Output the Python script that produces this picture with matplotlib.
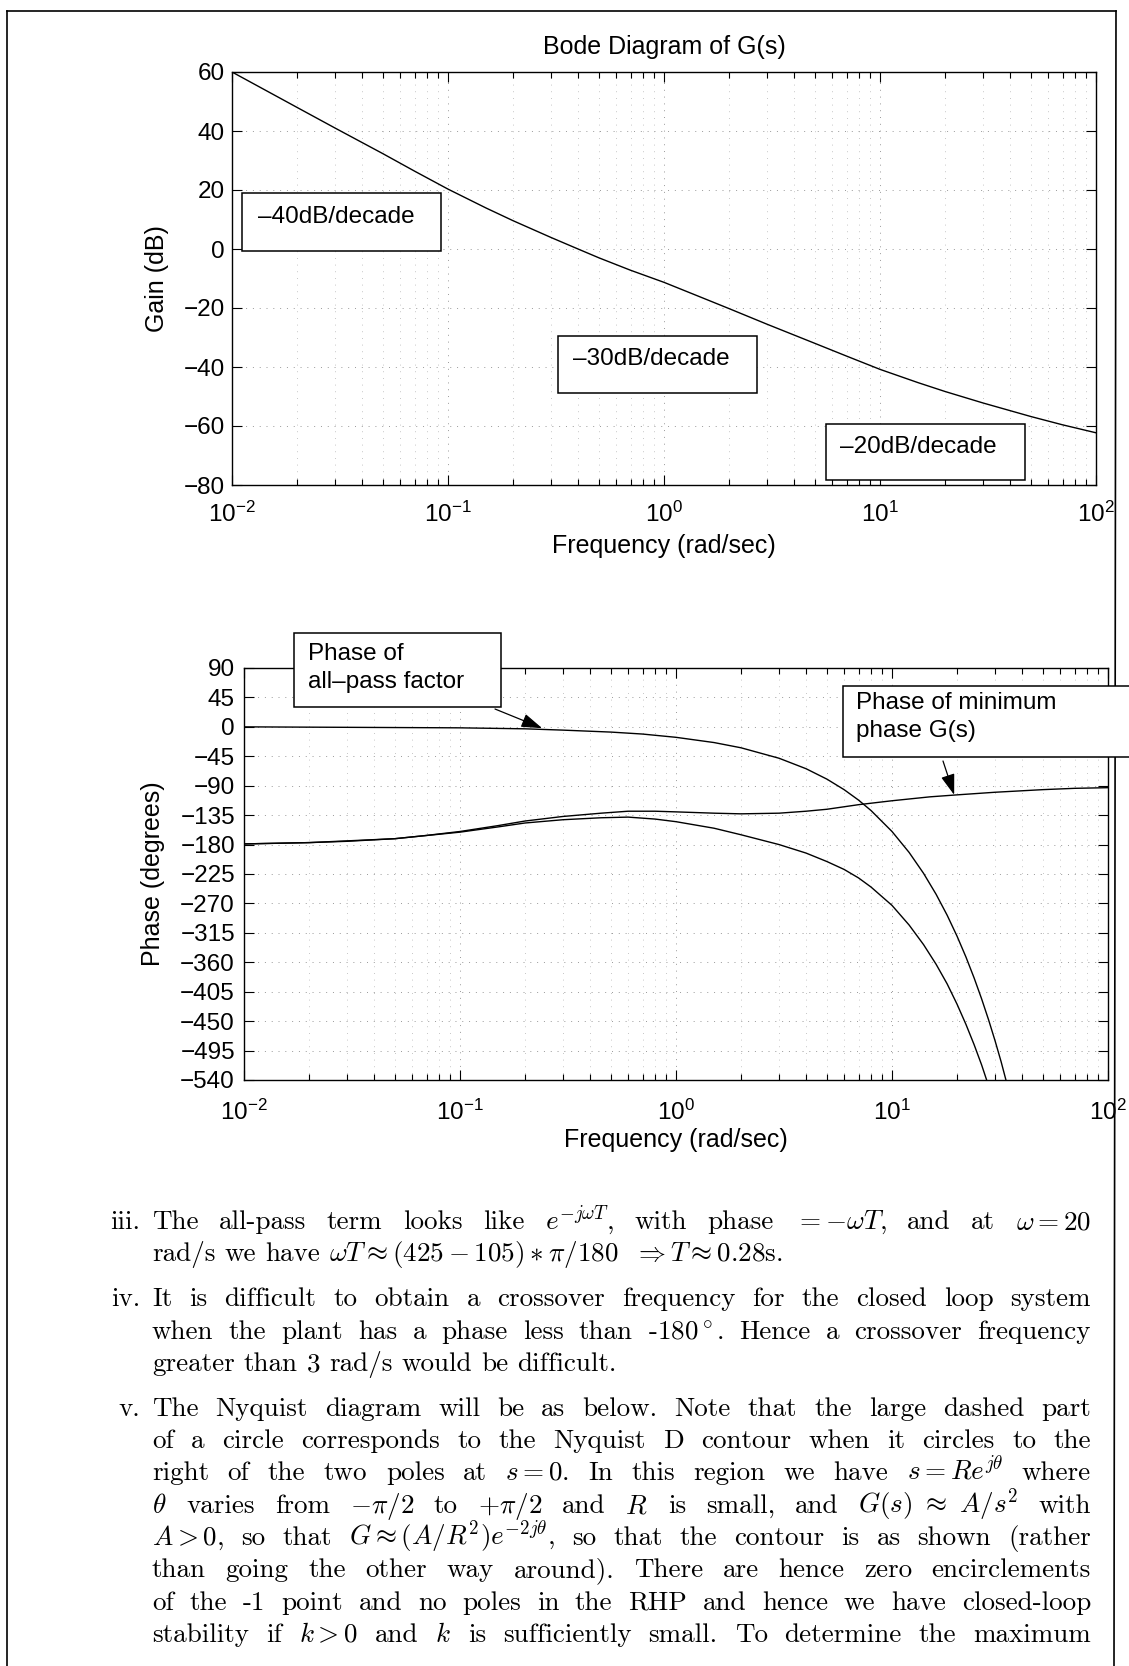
"""Bode diagram of G(s) (gain + phase) with the worked text below, scanned-page style"""
import matplotlib
matplotlib.use('Agg')
import matplotlib.pyplot as plt
import numpy as np
from matplotlib.patches import Rectangle
from matplotlib.lines import Line2D
from matplotlib.ticker import LogLocator, NullLocator, NullFormatter

W, H = 1129, 1666

# gain of G(s)
gain_freq = [0.01, 0.02, 0.03, 0.05, 0.07, 0.1, 0.15, 0.2, 0.3, 0.4, 0.5, 0.7, 1, 1.5,
             2, 3, 5, 7, 10, 15, 20, 30, 50, 70, 100]
gain_db = [60, 48, 41, 32.3, 26.4, 20.3, 13.9, 9.6, 3.9, 0.0, -3.0, -7.2, -11.3, -16.5,
           -20.2, -25.5, -32, -36.3, -40.8, -45.3, -48.3, -52.2, -56.8, -59.6, -62.3]

# phase of the all-pass factor
ap_freq = [0.01, 0.1, 0.2, 0.3, 0.5, 0.7, 1, 1.5, 2, 3, 4, 5, 6, 7, 8, 10, 12, 14,
           16, 18, 20, 22, 24, 26, 28, 30, 32, 34]
ap_deg = [0, -1.5, -3, -5, -8, -11, -16, -24, -32, -48, -64, -80, -96, -112, -128,
          -160, -192, -224, -256, -288, -320, -352, -384, -416, -448, -480, -512, -545]

# phase of minimum phase G(s)
mp_freq = [0.01, 0.02, 0.03, 0.05, 0.07, 0.1, 0.15, 0.2, 0.3, 0.45, 0.6, 0.8, 1, 1.5,
           2, 3, 4, 5, 7, 10, 15, 20, 30, 50, 70, 100]
mp_deg = [-179, -177, -175, -171, -166, -160, -151, -144, -137, -132, -129, -129, -130,
          -132, -133, -132, -129, -126, -119, -113, -107, -104, -100, -96, -94, -93]

# total phase of G(s)
tot_freq = [0.01, 0.02, 0.05, 0.1, 0.15, 0.2, 0.3, 0.45, 0.6, 0.8, 1, 1.5, 2, 3, 4, 5,
            6, 7, 8, 10, 12, 14, 16, 18, 20, 22, 24, 26, 28]
tot_deg = [-179, -177, -171, -161, -153, -147, -142, -139, -138, -141, -145, -155, -165,
           -180, -193, -206, -218, -231, -245, -273, -303, -333, -363, -393, -424, -455,
           -486, -517, -549]

gain_ticks = list(range(-80, 61, 20))
phase_ticks = list(range(-540, 91, 45))

para_iii = ["The all-pass term looks like $e^{-j\\omega T}$, with phase $= -\\omega T$, and at $\\omega = 20$",
            "rad/s we have $\\omega T \\approx (425 - 105) \\ast \\pi/180\\ \\ \\Rightarrow T \\approx 0.28$s."]
para_iv = ["It is difficult to obtain a crossover frequency for the closed loop system",
           "when the plant has a phase less than -180$^\\circ$. Hence a crossover frequency",
           "greater than 3 rad/s would be difficult."]
para_v = ["The Nyquist diagram will be as below. Note that the large dashed part",
          "of a circle corresponds to the Nyquist D contour when it circles to the",
          "right of the two poles at $s = 0$. In this region we have $s = Re^{j\\theta}$ where",
          "$\\theta$ varies from $-\\pi/2$ to $+\\pi/2$ and $R$ is small, and $G(s)\\ \\approx\\ A/s^2$ with",
          "$A > 0$, so that $G \\approx (A/R^2)e^{-2j\\theta}$, so that the contour is as shown (rather",
          "than going the other way around). There are hence zero encirclements",
          "of the -1 point and no poles in the RHP and hence we have closed-loop",
          "stability if $k > 0$ and $k$ is sufficiently small. To determine the maximum"]

plt.rcParams['font.family'] = ['Liberation Sans', 'DejaVu Sans']
plt.rcParams['mathtext.fontset'] = 'custom'
plt.rcParams['mathtext.rm'] = 'Liberation Sans'
plt.rcParams['mathtext.it'] = 'Liberation Sans:italic'
plt.rcParams['mathtext.bf'] = 'Liberation Sans:bold'

SERIF = ['cmr10', 'DejaVu Serif']
FS = 17.5
BODY = 19.5
LEFT, RIGHT = 152, 1091


def fx(x):
    return x / W


def fy(y):
    return 1 - y / H


def box(fig, x0, y0, x1, y1):
    fig.add_artist(Rectangle((fx(x0), fy(y1)), (x1 - x0) / W, (y1 - y0) / H,
                             transform=fig.transFigure, fc='white', ec='black',
                             lw=1.1, zorder=5))


def label(fig, x, y, s, **kw):
    fig.text(fx(x), fy(y), s, fontsize=FS, va='baseline', zorder=6, **kw)


def style_axes(ax, ylim, yticks, xpad, ypad):
    ax.set_xscale('log')
    ax.set_xlim(0.01, 100)
    ax.set_ylim(*ylim)
    ax.set_yticks(yticks)
    ax.yaxis.set_minor_locator(NullLocator())
    ax.xaxis.set_major_locator(LogLocator(base=10, numticks=10))
    ax.xaxis.set_minor_locator(LogLocator(base=10, subs=np.arange(2, 10), numticks=20))
    ax.xaxis.set_minor_formatter(NullFormatter())
    ax.tick_params(which='both', direction='in', top=True, right=True, width=0.8,
                   labelsize=FS)
    ax.tick_params(which='major', length=7)
    ax.tick_params(which='minor', length=4)
    ax.tick_params(axis='x', pad=xpad)
    ax.tick_params(axis='y', pad=ypad)
    ax.grid(True, which='major', ls=(0, (1, 6)), color='0.6', lw=0.7)
    ax.grid(True, which='minor', axis='x', ls=(0, (1, 7)), color='0.7', lw=0.6)
    for sp in ax.spines.values():
        sp.set_linewidth(1.0)


def split_tokens(s):
    toks, cur, in_math = [], '', False
    for ch in s:
        if ch == '$':
            in_math = not in_math
        if ch == ' ' and not in_math:
            if cur:
                toks.append(cur)
            cur = ''
        else:
            cur += ch
    if cur:
        toks.append(cur)
    return toks


def put_line(fig, renderer, s, y, justify, size):
    arts = [fig.text(0, fy(y), t, fontsize=size, family=SERIF, math_fontfamily='cm',
                     va='baseline') for t in split_tokens(s)]
    widths = [a.get_window_extent(renderer).width for a in arts]
    gap = size * 100 / 72 * 0.333
    if justify and len(arts) > 1:
        gap = max(gap * 0.6, (RIGHT - LEFT - sum(widths)) / (len(arts) - 1))
    x = LEFT
    for a, w in zip(arts, widths):
        a.set_x(fx(x))
        x += w + gap


def main():
    fig = plt.figure(figsize=(W / 100, H / 100), dpi=100)

    # page frame of the scan
    for xs, ys in [([7, 7], [11, H]), ([7, 1116], [11, 11]), ([1116, 1114], [11, H])]:
        fig.add_artist(Line2D([fx(v) for v in xs], [fy(v) for v in ys],
                              transform=fig.transFigure, color='k', lw=1.2))

    # ---- gain plot ----
    ax1 = fig.add_axes([fx(232), fy(485), 864 / W, 413 / H])
    ax1.plot(gain_freq, gain_db, 'k-', lw=1.0)
    style_axes(ax1, (-80, 60), gain_ticks, 12, 5)
    fig.text(fx(664), fy(54), 'Bode Diagram of G(s)', fontsize=18, ha='center', va='baseline')
    fig.text(fx(664), fy(553), 'Frequency (rad/sec)', fontsize=18, ha='center', va='baseline')
    fig.text(fx(157), fy(279), 'Gain (dB)', fontsize=18, ha='center', va='center', rotation=90)

    box(fig, 242, 193, 441, 251)
    label(fig, 258, 223, '\u201340dB/decade')
    box(fig, 558, 336, 757, 393)
    label(fig, 573, 365, '\u201330dB/decade')
    box(fig, 826, 424, 1025, 480)
    label(fig, 840, 453, '\u201320dB/decade')

    # ---- phase plot ----
    ax2 = fig.add_axes([fx(244), fy(1080), 864 / W, 412 / H])
    ax2.plot(ap_freq, ap_deg, 'k-', lw=1.0)
    ax2.plot(mp_freq, mp_deg, 'k-', lw=1.0)
    ax2.plot(tot_freq, tot_deg, 'k-', lw=1.0)
    style_axes(ax2, (-540, 90), phase_ticks, 14, 6.5)
    fig.text(fx(676), fy(1147), 'Frequency (rad/sec)', fontsize=18, ha='center', va='baseline')
    fig.text(fx(153), fy(874), 'Phase (degrees)', fontsize=18, ha='center', va='center', rotation=90)

    box(fig, 294, 633, 501, 707)
    label(fig, 308, 660, 'Phase of')
    label(fig, 308, 688, 'all\u2013pass factor')
    box(fig, 843, 686, 1145, 757)
    label(fig, 856, 709, 'Phase of minimum')
    label(fig, 856, 737, 'phase G(s)')

    arrow = dict(arrowstyle='-|>,head_length=0.75,head_width=0.25', mutation_scale=17,
                 color='k', lw=0.9, shrinkA=0, shrinkB=0)
    ax2.annotate('', xy=(0.24, -2), xytext=(fx(495), fy(709)),
                 textcoords='figure fraction', arrowprops=arrow, annotation_clip=False)
    ax2.annotate('', xy=(19.4, -104), xytext=(fx(943), fy(761)),
                 textcoords='figure fraction', arrowprops=arrow, annotation_clip=False)

    # ---- text below the plots ----
    renderer = fig.canvas.get_renderer()
    paras = [('iii.', para_iii, [1229, 1261]),
             ('iv.', para_iv, [1306, 1339, 1371]),
             ('v.', para_v, [1416, 1448, 1480, 1513, 1545, 1577, 1610, 1642])]
    for num, lines, ys in paras:
        fig.text(fx(140), fy(ys[0]), num, fontsize=BODY, family=SERIF, ha='right', va='baseline')
        for i, (s, y) in enumerate(zip(lines, ys)):
            last = (i == len(lines) - 1) and num != 'v.'
            put_line(fig, renderer, s, y, not last, BODY)

    fig.savefig('out.png', dpi=100)
    plt.close(fig)
    print('Saved: out.png')


if __name__ == '__main__':
    main()
